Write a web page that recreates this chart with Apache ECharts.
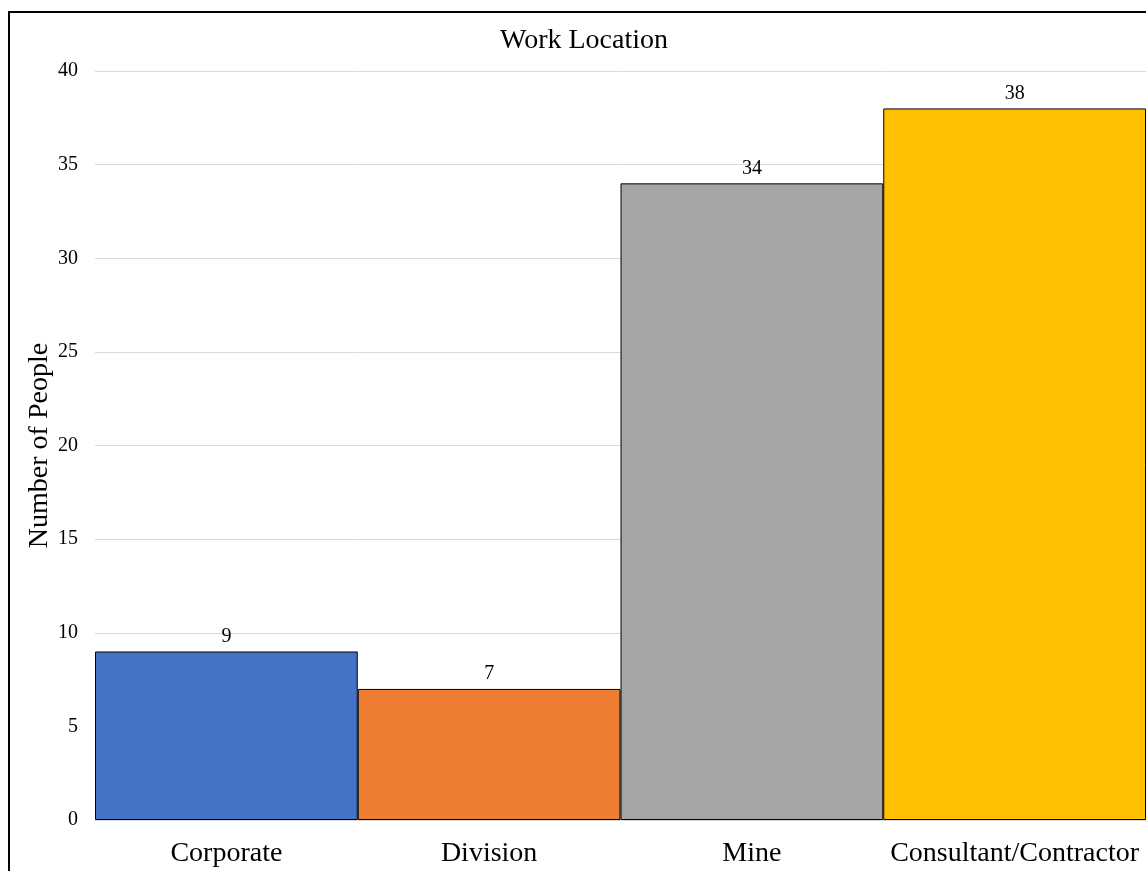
<!DOCTYPE html>
<html>
<head>
<meta charset="utf-8">
<style>
  html, body { margin: 0; padding: 0; background: #fff; }
  #chart { width: 1146px; height: 871px; }
</style>
<script src="https://cdn.jsdelivr.net/npm/echarts@6/dist/echarts.min.js"></script>
</head>
<body>
<div id="chart"></div>
<script>
// Survey respondents grouped by where they work
const categories = ['Corporate', 'Division', 'Mine', 'Consultant/Contractor'];
const counts = [9, 7, 34, 38];
const barColors = ['#4472C4', '#ED7D31', '#A5A5A5', '#FFC000'];

const FONT = '"Liberation Serif", "Times New Roman", serif';

const chart = echarts.init(document.getElementById('chart'));
chart.setOption({
  animation: false,
  backgroundColor: '#fff',
  title: {
    text: 'Work Location',
    left: 495,
    top: 22,
    textStyle: { fontFamily: FONT, fontSize: 28, fontWeight: 'normal', color: '#000' }
  },
  graphic: [{
    type: 'rect',
    shape: { x: 9, y: 12, width: 1200, height: 900 },
    style: { fill: 'none', stroke: '#000', lineWidth: 2 },
    silent: true,
    z: 100
  }],
  grid: { left: 95, right: 0, top: 71, bottom: 51, containLabel: false },
  xAxis: {
    type: 'category',
    data: categories,
    axisTick: { show: false },
    axisLine: { lineStyle: { color: '#d9d9d9', width: 1 } },
    axisLabel: { interval: 0, fontFamily: FONT, fontSize: 28, color: '#000', margin: 20 }
  },
  yAxis: {
    type: 'value',
    min: 0,
    max: 40,
    interval: 5,
    name: 'Number of People',
    nameLocation: 'middle',
    nameGap: 41,
    nameMoveOverlap: false,
    nameTextStyle: { fontFamily: FONT, fontSize: 28, color: '#000' },
    axisLine: { show: false },
    axisTick: { show: false },
    axisLabel: { fontFamily: FONT, fontSize: 20, color: '#000', margin: 17 },
    splitLine: { lineStyle: { color: '#d9d9d9', width: 1 } }
  },
  series: [{
    type: 'bar',
    barCategoryGap: '0%',
    data: counts.map((v, i) => ({
      value: v,
      itemStyle: { color: barColors[i], borderColor: '#000', borderWidth: 1 }
    })),
    label: {
      show: true,
      position: 'top',
      distance: 5,
      fontFamily: FONT,
      fontSize: 20,
      color: '#000'
    }
  }]
});
</script>
</body>
</html>
